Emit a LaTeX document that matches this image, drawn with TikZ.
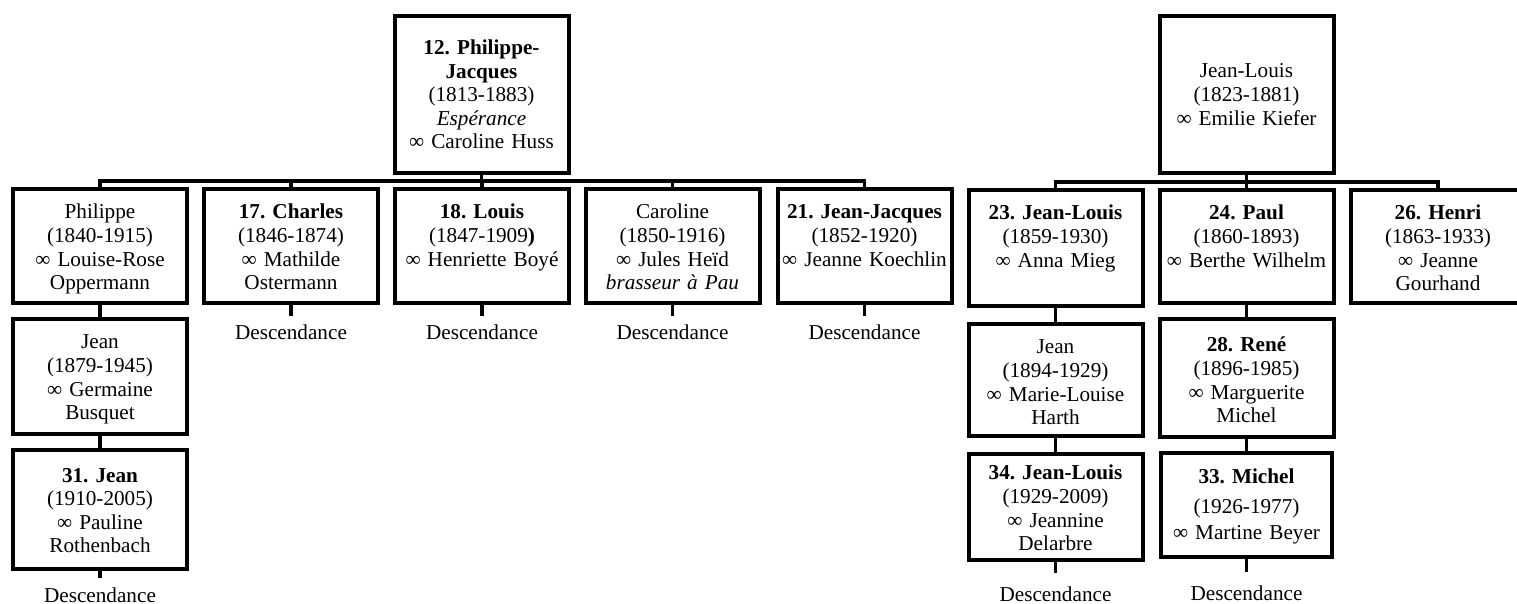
\documentclass[tikz,border=0pt]{standalone}
\usepackage{fontspec}
\setmainfont{Liberation Serif}
\usetikzlibrary{positioning}
\frenchspacing

\begin{document}
\begin{tikzpicture}[x=0.5pt, y=-0.5pt,
    card/.style={rectangle, draw, line width=2pt, outer sep=0pt, align=center, inner xsep=0pt, inner ysep=0pt, text width=87pt, font=\fontsize{10.6}{11.8}\selectfont},
    topbox/.style={card, anchor=north, minimum height=78.5pt},
    pbox/.style={card, anchor=north, text height=15pt, text depth=42pt},
    desc/.style={outer sep=0pt, inner xsep=0pt, inner ysep=0pt, text height=12pt, text depth=0.5pt, font=\fontsize{10.6}{11.8}\selectfont},
    link/.style={line width=1.8pt}]
    \useasboundingbox (0,0) rectangle (1517,604);

    \node[topbox] (philippejacques) at (481.5,16) {\textbf{12. Philippe-}\\\textbf{Jacques}\\(1813-1883)\\\textit{Espérance}\\∞ Caroline Huss};
    \node[pbox] (philippe) at (100,189) {Philippe\\(1840-1915)\\∞ Louise-Rose\\Oppermann};
    \node[pbox] (charles) at (291,189) {\textbf{17. Charles}\\(1846-1874)\\∞ Mathilde\\Ostermann};
    \node[pbox] (louis) at (482,189) {\textbf{18. Louis}\\(1847-1909\textbf{)}\\∞ Henriette Boyé};
    \node[pbox] (caroline) at (672.5,189) {Caroline\\(1850-1916)\\∞ Jules Heïd\\\textit{brasseur à Pau}};
    \node[pbox] (jeanjacques) at (864.5,189) {\textbf{21. Jean-Jacques}\\(1852-1920)\\∞ Jeanne Koechlin};
    \node[pbox, text depth=42.5pt, below=8pt of philippe] (jean) {Jean\\(1879-1945)\\∞ Germaine\\Busquet};
    \node[pbox, text height=16pt, text depth=43.5pt, below=8pt of jean] (jean31) {\textbf{31. Jean}\\(1910-2005)\\∞ Pauline\\Rothenbach};

    \node[desc, below=6.5pt of charles] (desccharles) {Descendance};
    \node[desc, below=6.5pt of louis] (desclouis) {Descendance};
    \node[desc, below=6.5pt of caroline] (desccaroline) {Descendance};
    \node[desc, below=6.5pt of jeanjacques] (descjeanjacques) {Descendance};
    \node[desc, below=4.5pt of jean31] (descjean31) {Descendance};

    \draw[link] (philippejacques.south) -- ++(0,8) -| (philippe.north);
    \draw[link] (philippejacques.south) -- ++(0,8) -| (charles.north);
    \draw[link] (philippejacques.south) -- ++(0,8) -| (louis.north);
    \draw[link] (philippejacques.south) -- ++(0,8) -| (caroline.north);
    \draw[link] (philippejacques.south) -- ++(0,8) -| (jeanjacques.north);
    \draw[link] (philippe) -- (jean);
    \draw[link] (jean) -- (jean31);
    \draw[link] (charles) -- (desccharles);
    \draw[link] (louis) -- (desclouis);
    \draw[link] (caroline) -- (desccaroline);
    \draw[link] (jeanjacques) -- (descjeanjacques);
    \draw[link] (jean31) -- (descjean31);

    \node[topbox] (jeanlouis) at (1246.5,16) {Jean-Louis\\(1823-1881)\\∞ Emilie Kiefer};
    \node[pbox, text depth=43pt] (jeanlouis23) at (1055.5,190) {\textbf{23. Jean-Louis}\\(1859-1930)\\∞ Anna Mieg};
    \node[pbox, text depth=41.5pt] (paul) at (1246.5,190) {\textbf{24. Paul}\\(1860-1893)\\∞ Berthe Wilhelm};
    \node[pbox, text depth=41.5pt] (henri) at (1438,190) {\textbf{26. Henri}\\(1863-1933)\\∞ Jeanne\\Gourhand};
    \node[pbox, text depth=41pt, below=9pt of jeanlouis23] (jeanb) {Jean\\(1894-1929)\\∞ Marie-Louise\\Harth};
    \node[pbox, text height=13pt, text depth=40pt, below=9pt of jeanb] (jeanlouis34) {\textbf{34. Jean-Louis}\\(1929-2009)\\∞ Jeannine\\Delarbre};
    \node[pbox, text height=16.5pt, text depth=42.5pt, below=8pt of paul] (rene) {\textbf{28. René}\\(1896-1985)\\∞ Marguerite\\Michel};
    \node[pbox, text height=15.5pt, text depth=36.5pt, text width=85.5pt, below=8pt of rene] (michel) {\textbf{33. Michel}\\[3.2pt](1926-1977)\\[1.2pt]∞ Martine Beyer};

    \node[desc, below=8.5pt of jeanlouis34] (descjeanlouis34) {Descendance};
    \node[desc, below=9.5pt of michel] (descmichel) {Descendance};

    \draw[link] (jeanlouis.south) -- ++(0,9) -| (jeanlouis23.north);
    \draw[link] (jeanlouis.south) -- ++(0,9) -| (paul.north);
    \draw[link] (jeanlouis.south) -- ++(0,9) -| (henri.north);
    \draw[link] (jeanlouis23) -- (jeanb);
    \draw[link] (jeanb) -- (jeanlouis34);
    \draw[link] (paul) -- (rene);
    \draw[link] (rene) -- (michel);
    \draw[link, shorten >=2pt] (jeanlouis34) -- (descjeanlouis34);
    \draw[link, shorten >=2pt] (michel) -- (descmichel);
\end{tikzpicture}
\end{document}
